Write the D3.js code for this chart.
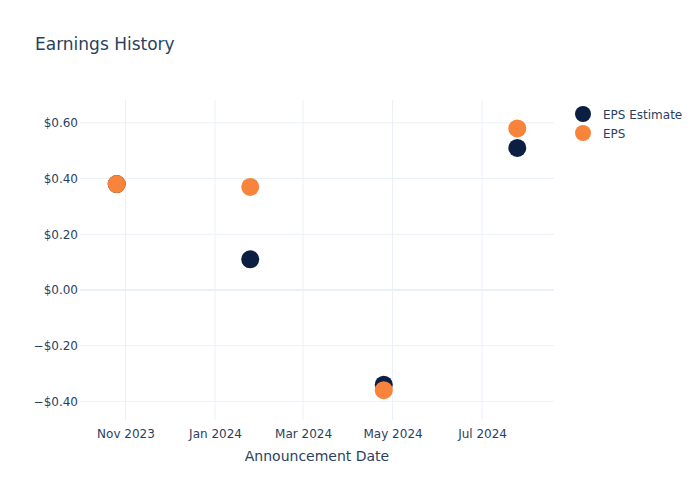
<!DOCTYPE html>
<html><head><meta charset="utf-8">
<script src="https://cdn.jsdelivr.net/npm/d3@7"></script>
<style>body{margin:0;background:#fff}svg{font-family:"DejaVu Sans",sans-serif}</style>
</head><body><div id="chart"></div>
<script>
const dates = ["2023-10-26","2024-01-25","2024-04-25","2024-07-25"];
const epsEstimate = [0.38, 0.11, -0.34, 0.51];
const eps = [0.38, 0.37, -0.36, 0.58];
const yTicks = [-0.4, -0.2, 0, 0.2, 0.4, 0.6];
const xTicks = ["2023-11-01","2024-01-01","2024-03-01","2024-05-01","2024-07-01"];
const seriesNames = ["EPS Estimate","EPS"];
const colors = ["#0c1f42","#f7843a"];

const W=700,H=500,m={l:80,r:146,t:100,b:80};
const FF="DejaVu Sans, sans-serif";
const parse=d3.utcParse("%Y-%m-%d");
const svg=d3.select("#chart").append("svg").attr("width",W).attr("height",H);
const x=d3.scaleUtc().domain([parse("2023-10-01"),parse("2024-08-19")]).range([m.l,W-m.r]);
const y=d3.scaleLinear().domain([-0.467,0.682]).range([H-m.b,m.t]);
const txt="#2a3f5f", grid="#ebf0f8";

// grid
svg.append("g").selectAll("line").data(xTicks).join("line")
 .attr("x1",d=>x(parse(d))).attr("x2",d=>x(parse(d))).attr("y1",m.t).attr("y2",H-m.b)
 .attr("stroke",grid).attr("stroke-width",1);
svg.append("g").selectAll("line").data(yTicks).join("line")
 .attr("x1",m.l).attr("x2",W-m.r).attr("y1",d=>y(d)).attr("y2",d=>y(d))
 .attr("stroke",grid).attr("stroke-width",d=>d===0?2:1);

// axes
const fmt=d=>(d<0?"\u2212":"")+"$"+Math.abs(d).toFixed(2);
const ya=svg.append("g").attr("transform",`translate(${m.l},0)`)
 .call(d3.axisLeft(y).tickValues(yTicks).tickFormat(fmt).tickSize(0).tickPadding(2));
ya.select(".domain").remove();
ya.selectAll("text").attr("fill",txt).attr("font-size",12).attr("font-family",FF);
const xa=svg.append("g").attr("transform",`translate(0,${H-m.b})`)
 .call(d3.axisBottom(x).tickValues(xTicks.map(parse)).tickFormat(d3.utcFormat("%b %Y")).tickSize(0).tickPadding(9));
xa.select(".domain").remove();
xa.selectAll("text").attr("fill",txt).attr("font-size",12).attr("font-family",FF);

// points
[epsEstimate,eps].forEach((vals,i)=>{
 svg.append("g").selectAll("circle").data(vals).join("circle")
  .attr("cx",(d,j)=>x(parse(dates[j]))).attr("cy",d=>y(d)).attr("r",9)
  .attr("fill",colors[i]);
});

// title
svg.append("text").attr("x",35).attr("y",50).text("Earnings History")
 .attr("fill",txt).attr("font-size",17);
svg.append("text").attr("x",(m.l+W-m.r)/2).attr("y",461).attr("text-anchor","middle")
 .text("Announcement Date").attr("fill",txt).attr("font-size",14);

// legend
const lg=svg.append("g").selectAll("g").data(seriesNames).join("g")
 .attr("transform",(d,i)=>`translate(583,${114+i*19})`);
lg.append("circle").attr("r",8).attr("fill",(d,i)=>colors[i]);
lg.append("text").attr("x",20).attr("y",4.5).text(d=>d).attr("fill",txt).attr("font-size",12);
</script></body></html>
